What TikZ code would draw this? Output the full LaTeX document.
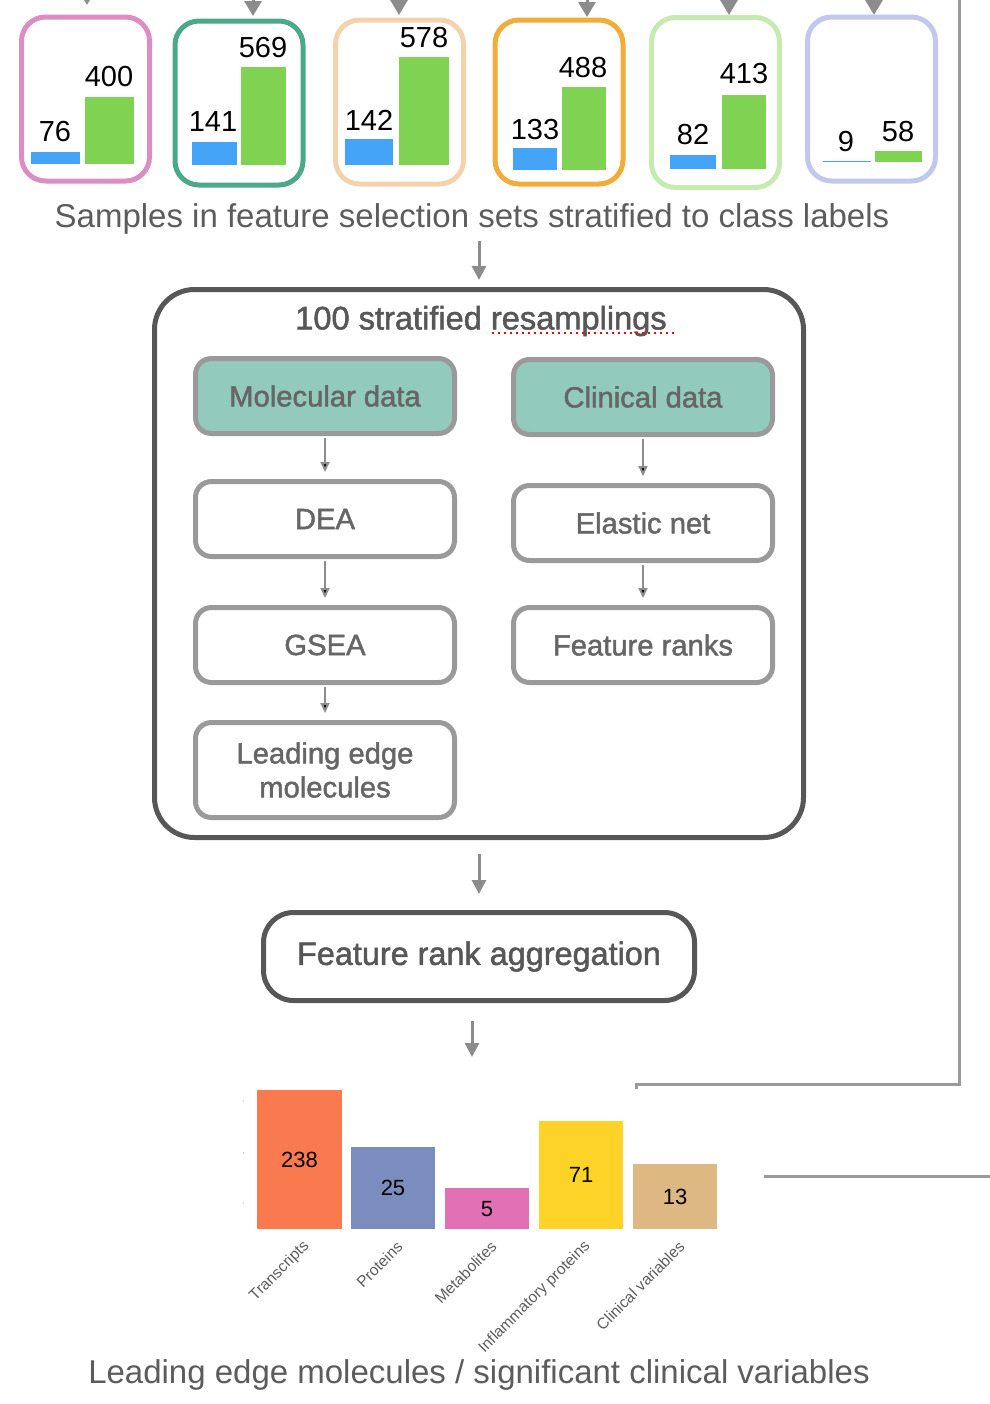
\documentclass[tikz,border=0pt]{standalone}
\usepackage{fontspec}
\setmainfont{Liberation Sans}
\newfontfamily\medfont[FakeBold=1.6]{Liberation Sans}
\usetikzlibrary{arrows.meta}

\definecolor{setpink}{HTML}{DC8EC3}
\definecolor{setteal}{HTML}{4BA88B}
\definecolor{setpeach}{HTML}{F3D3AE}
\definecolor{setorange}{HTML}{F2AC3A}
\definecolor{setlime}{HTML}{C6EBB1}
\definecolor{setlavender}{HTML}{C0C8EC}
\definecolor{barblue}{HTML}{44A4F8}
\definecolor{bargreen}{HTML}{80D352}
\definecolor{labelgray}{HTML}{5C5C5C}
\definecolor{framegray}{HTML}{575757}
\definecolor{boxgray}{HTML}{9A9A9A}
\definecolor{innertext}{HTML}{666666}
\definecolor{datateal}{HTML}{92CBBB}
\definecolor{arrowgray}{HTML}{8C8C8C}
\definecolor{transcol}{HTML}{FA7A4F}
\definecolor{protcol}{HTML}{7B8CBF}
\definecolor{metabcol}{HTML}{E170B4}
\definecolor{inflcol}{HTML}{FDD328}
\definecolor{cliniccol}{HTML}{DEB882}

\begin{document}
\begin{tikzpicture}[x=0.5pt,y=-0.5pt,
    set box/.style={draw,line width=2.5pt,rounded corners=12pt,minimum width=64pt,minimum height=82pt},
    count/.style={font=\fontsize{14.5}{16}\selectfont,text=black,inner sep=0pt},
    bar count/.style={font=\fontsize{11}{13}\selectfont,text=black,inner sep=0pt},
    caption/.style={font=\fontsize{16.5}{20}\selectfont,text=labelgray,inner sep=0pt},
    step box/.style={draw=boxgray,line width=2.5pt,rounded corners=8pt,minimum width=129.5pt,minimum height=37.5pt,text=innertext,font=\medfont\fontsize{14.6}{17.5}\selectfont,align=center},
    data box/.style={step box,fill=datateal},
    category/.style={rotate=45,anchor=east,inner sep=0pt,text=labelgray,font=\fontsize{7.8}{9}\selectfont},
    top arrow/.style={draw=arrowgray,line width=1.5pt,-{Triangle[width=8.5pt,length=7.5pt]}},
    big arrow/.style={draw=arrowgray,line width=1.5pt,-{Triangle[width=7pt,length=7pt]}},
    small arrow/.style={draw=arrowgray,line width=1pt,-{Triangle[width=4.5pt,length=5pt]}},
    side line/.style={draw=boxgray,line width=1.5pt}]
    \useasboundingbox (0,0) rectangle (990,1404);
    \clip (0,0) rectangle (990,1404);

    % incoming arrows from above
    \coordinate (in1) at (87,-40);   \coordinate (tip1) at (87,5);
    \coordinate (in2) at (253,-40);  \coordinate (tip2) at (253,16);
    \coordinate (in3) at (399,-40);  \coordinate (tip3) at (399,15);
    \coordinate (in4) at (587,-40);  \coordinate (tip4) at (587,17);
    \coordinate (in5) at (729,-40);  \coordinate (tip5) at (729,15);
    \coordinate (in6) at (874,-40);  \coordinate (tip6) at (874,15);
    \draw[top arrow] (in1) -- (tip1);
    \draw[top arrow] (in2) -- (tip2);
    \draw[top arrow] (in3) -- (tip3);
    \draw[top arrow] (in4) -- (tip4);
    \draw[top arrow] (in5) -- (tip5);
    \draw[top arrow] (in6) -- (tip6);

    % feature selection sets
    \node[set box,draw=setpink] (s1) at (85.5,99) {};
    \node[set box,draw=setteal] (s2) at (239,103) {};
    \node[set box,draw=setpeach] (s3) at (399.5,102) {};
    \node[set box,draw=setorange] (s4) at (559,102) {};
    \node[set box,draw=setlime,minimum height=85pt] (s5) at (715.5,102.5) {};
    \node[set box,draw=setlavender] (s6) at (871.5,99) {};

    \fill[barblue] (31,152) rectangle (80,164);
    \fill[bargreen] (85,97) rectangle (134,164);
    \node[count] (n1a) at (55,132) {76};
    \node[count] (n1b) at (109,77) {400};

    \fill[barblue] (192,142) rectangle (237,165);
    \fill[bargreen] (241,67) rectangle (286,165);
    \node[count] (n2a) at (213,122) {141};
    \node[count] (n2b) at (263,48) {569};

    \fill[barblue] (345,139) rectangle (393,165);
    \fill[bargreen] (399,57) rectangle (449,165);
    \node[count] (n3a) at (369,120) {142};
    \node[count] (n3b) at (424,38) {578};

    \fill[barblue] (513,148) rectangle (557,170);
    \fill[bargreen] (562,87) rectangle (606,170);
    \node[count] (n4a) at (535,130) {133};
    \node[count] (n4b) at (583,68) {488};

    \fill[barblue] (670,155) rectangle (716,169);
    \fill[bargreen] (722,95) rectangle (766,169);
    \node[count] (n5a) at (693,135) {82};
    \node[count] (n5b) at (744,74) {413};

    \fill[barblue] (823,160.5) rectangle (871,162);
    \fill[bargreen] (875,151) rectangle (922,162);
    \node[count] (n6a) at (846,142) {9};
    \node[count] (n6b) at (898,132) {58};

    \node[caption] (samples) at (472,219) {Samples in feature selection sets stratified to class labels};

    % resampling loop
    \node[draw=framegray,line width=2.5pt,rounded corners=20pt,minimum width=324.5pt,minimum height=274pt] (loop) at (479,563.5) {};
    \node[inner sep=0pt,text=framegray,font=\medfont\fontsize{16.3}{20}\selectfont] (title) at (481,321) {100 stratified resamplings};
    \draw[red,dotted,line width=1pt] (492,333) coordinate (sp1) -- (675,333) coordinate (sp2);

    \node[data box] (mol) at (325,396) {Molecular data};
    \node[data box] (clin) at (643,397) {Clinical data};
    \node[step box] (dea) at (325,519) {DEA};
    \node[step box] (enet) at (643,523) {Elastic net};
    \node[step box] (gsea) at (325,645) {GSEA};
    \node[step box] (ranks) at (643,645) {Feature ranks};
    \node[step box,minimum height=47.5pt,font=\medfont\fontsize{14.6}{17}\selectfont] (lead) at (325,770) {Leading edge\\molecules};

    \path[small arrow,shorten <=1pt,shorten >=3.5pt]
        (mol) edge (dea)
        (clin) edge (enet)
        (dea) edge (gsea)
        (enet) edge (ranks)
        (gsea) edge (lead);

    \node[draw=framegray,line width=2.5pt,rounded corners=15pt,minimum width=215.5pt,minimum height=44pt,text=framegray,font=\medfont\fontsize{16.2}{20}\selectfont] (rank) at (479,956.5) {Feature rank aggregation};

    \coordinate (chart) at (472,1057);
    \draw[big arrow,shorten <=3pt,shorten >=3.5pt] (samples.south -| loop) -- (loop);
    \draw[big arrow,shorten <=7pt,shorten >=8pt] (loop) -- (rank);
    \draw[big arrow,shorten <=9pt] (rank.south -| chart) -- (chart);

    % lines on the right
    \coordinate (r1) at (959,-10);
    \coordinate (r2) at (959,1084);
    \coordinate (r3) at (636,1084);
    \coordinate (r4) at (636,1089);
    \draw[side line] (r1) -- (r2) -- (r3) -- (r4);
    \coordinate (q1) at (764,1176);
    \coordinate (q2) at (1000,1176);
    \draw[side line] (q1) -- (q2);

    % leading edge counts
    \draw[black!15,line width=0.5pt] (243,1100) -- (243,1102) (243,1152) -- (243,1154) (243,1202) -- (243,1204);
    \fill[transcol] (257,1090) rectangle (342,1229);
    \fill[protcol] (351,1147) rectangle (435,1229);
    \fill[metabcol] (445,1188) rectangle (529,1229);
    \fill[inflcol] (539,1121) rectangle (623,1229);
    \fill[cliniccol] (633,1164) rectangle (717,1229);
    \node[bar count] (c1) at (299.5,1160) {238};
    \node[bar count] (c2) at (393,1188) {25};
    \node[bar count] (c3) at (487,1209) {5};
    \node[bar count] (c4) at (581,1175) {71};
    \node[bar count] (c5) at (675,1197) {13};

    \node[category] (l1) at (307,1244) {Transcripts};
    \node[category] (l2) at (400,1244) {Proteins};
    \node[category] (l3) at (494,1244) {Metabolites};
    \node[category] (l4) at (588,1244) {Inflammatory proteins};
    \node[category] (l5) at (682,1244) {Clinical variables};

    \node[caption] (result) at (479,1375) {Leading edge molecules / significant clinical variables};
\end{tikzpicture}
\end{document}
